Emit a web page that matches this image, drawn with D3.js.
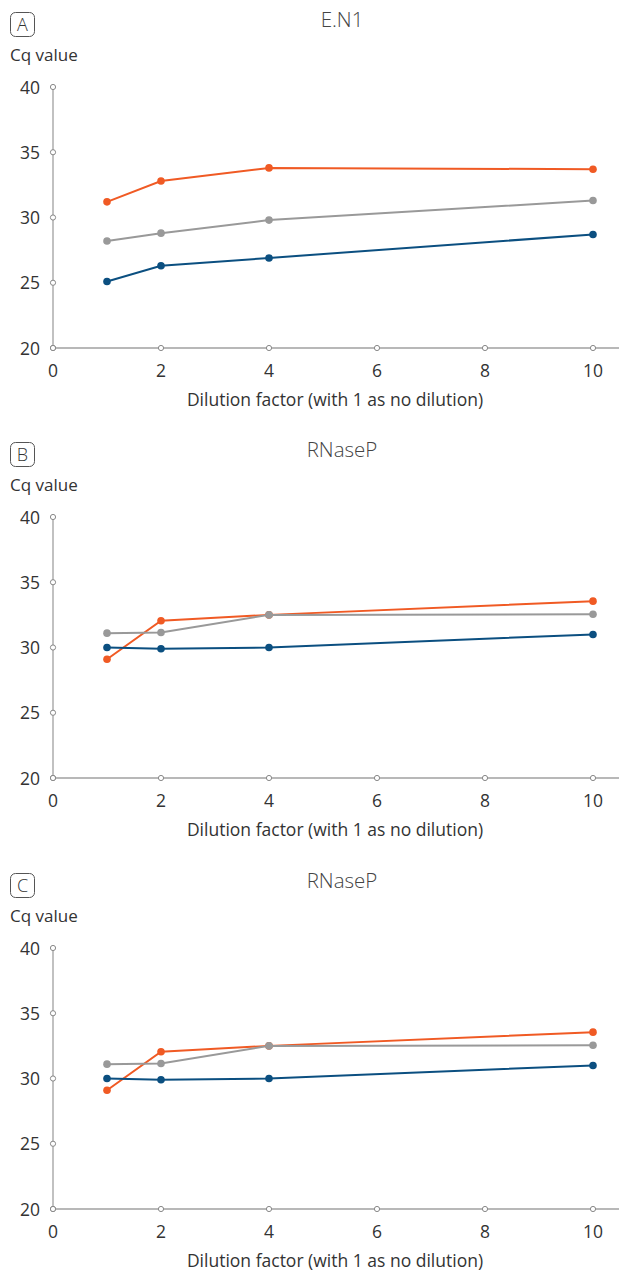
<!DOCTYPE html>
<html>
<head>
<meta charset="utf-8">
<script src="https://cdn.jsdelivr.net/npm/d3@7"></script>
<style>
  body { margin: 0; background: #fff; }
  svg text { font-family: "Open Sans", "Noto Sans", sans-serif; fill: #333; }
</style>
</head>
<body>
<div id="chart"></div>
<script>
// Dilution series, shared x values
const dilutions = [1, 2, 4, 10];
const xTicks = [0, 2, 4, 6, 8, 10];
const yTicks = [20, 25, 30, 35, 40];

// Panel A - E.N1
const enOrange = [31.2, 32.8, 33.8, 33.7];
const enGray   = [28.2, 28.8, 29.8, 31.3];
const enBlue   = [25.1, 26.3, 26.9, 28.7];

// Panel B/C - RNaseP
const rnOrange = [29.1, 32.05, 32.5, 33.55];
const rnGray   = [31.1, 31.15, 32.5, 32.55];
const rnBlue   = [30.0, 29.9, 30.0, 31.0];

const panelLetters = ["A", "B", "C"];
const panelTitles  = ["E.N1", "RNaseP", "RNaseP"];
const panelSeries = [
  [enOrange, enGray, enBlue],
  [rnOrange, rnGray, rnBlue],
  [rnOrange, rnGray, rnBlue]
];
const seriesColors = ["#f05a24", "#999999", "#0b4f80"];

const width = 619, height = 1271;
const svg = d3.select("#chart").append("svg")
  .attr("width", width).attr("height", height);

const x = d3.scaleLinear().domain([0, 10]).range([53, 593]);
const y = d3.scaleLinear().domain([20, 40]).range([348, 87]);
const axisColor = "#a0a0a0";

function drawPanel(pi, offsetY) {
  const g = svg.append("g").attr("transform", `translate(0, ${offsetY})`);

  // letter box
  g.append("rect")
    .attr("x", 10.5).attr("y", 12.5).attr("width", 24).attr("height", 24)
    .attr("rx", 5).attr("fill", "none").attr("stroke", "#555").attr("stroke-width", 1);
  g.append("text")
    .attr("x", 22.5).attr("y", 31).attr("text-anchor", "middle")
    .style("font-size", "18px").style("font-weight", 300)
    .text(panelLetters[pi]);

  g.append("text")
    .attr("x", 342).attr("y", 27).attr("text-anchor", "middle")
    .style("font-size", "20.5px").style("font-weight", 300).style("fill", "#444")
    .text(panelTitles[pi]);

  g.append("text")
    .attr("x", 10).attr("y", 61)
    .style("font-size", "17px")
    .text("Cq value");

  // axes lines
  g.append("line")
    .attr("x1", x(0)).attr("x2", x(0)).attr("y1", y(40)).attr("y2", y(20))
    .attr("stroke", axisColor).attr("stroke-width", 1.3);
  g.append("line")
    .attr("x1", x(0)).attr("x2", width).attr("y1", y(20)).attr("y2", y(20))
    .attr("stroke", axisColor).attr("stroke-width", 1.3);

  // y tick labels
  yTicks.forEach(t => {
    g.append("text")
      .attr("x", 40).attr("y", y(t) + 6.5).attr("text-anchor", "end")
      .style("font-size", "17.5px")
      .text(t);
  });
  // x tick labels
  xTicks.forEach(t => {
    g.append("text")
      .attr("x", x(t)).attr("y", y(20) + 28.5).attr("text-anchor", "middle")
      .style("font-size", "17.5px")
      .text(t);
  });

  g.append("text")
    .attr("x", 335).attr("y", y(20) + 58).attr("text-anchor", "middle")
    .style("font-size", "17.5px")
    .text("Dilution factor (with 1 as no dilution)");

  // series
  const line = d3.line().x(d => x(d[0])).y(d => y(d[1]));
  panelSeries[pi].forEach((vals, si) => {
    const pts = dilutions.map((d, i) => [d, vals[i]]);
    g.append("path").datum(pts)
      .attr("d", line).attr("fill", "none")
      .attr("stroke", seriesColors[si]).attr("stroke-width", 2);
    g.selectAll(null).data(pts).enter().append("circle")
      .attr("cx", d => x(d[0])).attr("cy", d => y(d[1])).attr("r", 3.8)
      .attr("fill", seriesColors[si]);
  });

  // hollow tick markers on top
  yTicks.forEach(t => {
    g.append("circle").attr("cx", x(0)).attr("cy", y(t)).attr("r", 2.6)
      .attr("fill", "#fff").attr("stroke", "#888").attr("stroke-width", 1);
  });
  xTicks.forEach(t => {
    g.append("circle").attr("cx", x(t)).attr("cy", y(20)).attr("r", 2.6)
      .attr("fill", "#fff").attr("stroke", "#888").attr("stroke-width", 1);
  });
}

drawPanel(0, 0);
drawPanel(1, 430);
drawPanel(2, 861);
</script>
</body>
</html>
